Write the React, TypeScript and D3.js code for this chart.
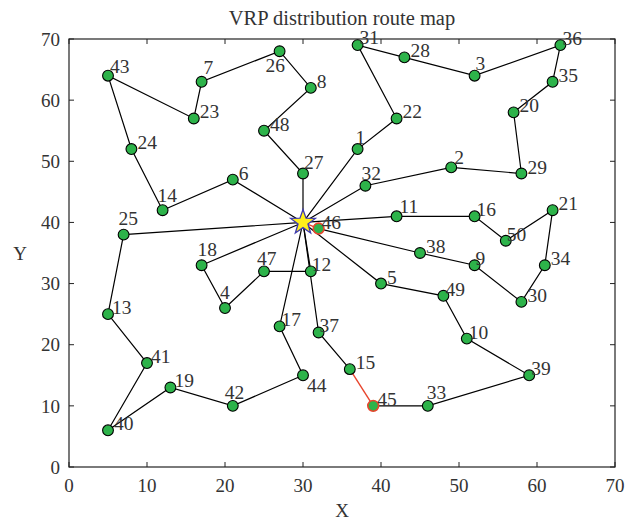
import React from "react";
import * as d3 from "d3";

// eil51-style customer coordinates, index = node id - 1; node 51 = depot
const nodeX = [37, 49, 52, 20, 40, 21, 17, 31, 52, 51, 42, 31, 5, 12, 36, 52, 27, 17, 13, 57, 62, 42, 16, 8, 7, 27, 30, 43, 58, 58, 37, 38, 46, 61, 62, 63, 32, 45, 59, 5, 10, 21, 5, 30, 39, 32, 25, 25, 48, 56, 30];
const nodeY = [52, 49, 64, 26, 30, 47, 63, 62, 33, 21, 41, 32, 25, 42, 16, 41, 23, 33, 13, 58, 42, 57, 57, 52, 38, 68, 48, 67, 48, 27, 69, 46, 10, 33, 63, 69, 22, 35, 15, 6, 17, 10, 64, 15, 10, 39, 32, 55, 28, 37, 40];
const DEPOT = 51;

// vehicle routes (node ids), each starts and ends at the depot
const routes = [
  [51, 27, 48, 8, 26, 7, 23, 43, 24, 14, 6, 51],
  [51, 1, 22, 31, 28, 3, 36, 35, 20, 29, 2, 32, 51],
  [51, 11, 16, 50, 21, 34, 30, 9, 38, 46],
  [51, 5, 49, 10, 39, 33, 45],
  [15, 37, 51],
  [51, 18, 4, 47, 12, 51],
  [51, 17, 44, 42, 19, 40, 41, 13, 25, 51],
];
// highlighted (red) segments
const redSegments = [
  [45, 15],
  [51, 46],
];
const redNodes = [45, 46];

const xTicks = [0, 10, 20, 30, 40, 50, 60, 70];
const yTicks = [0, 10, 20, 30, 40, 50, 60, 70];
const titleText = "VRP distribution route map";
const xLabel = "X";
const yLabel = "Y";

// label nudges in px [dx, dy(baseline)] relative to point centre
const LABEL_NUDGE: Record<number, [number, number]> = {
  26: [-14, 21], 44: [4, 17], 42: [-8, -7], 18: [-4, -9], 47: [-7, -6], 4: [-5, -9],
  7: [2, -8], 43: [2, -3], 27: [1, -5], 14: [-5, -8], 25: [-5, -10], 1: [-2, -5],
  2: [3, -3], 32: [-4, -6], 11: [3, -3], 3: [1, -6], 33: [-1, -7],
  12: [1, 0], 17: [2, 0], 37: [1, 0], 9: [1, 0], 50: [1, 0], 31: [2, -1], 36: [2, 0],
  49: [2, 0], 10: [2, 0], 39: [2, 0], 16: [2, 0],
  13: [4, 0], 41: [4, 0], 19: [4, -1], 45: [4, 0], 46: [3, 0],
};

const W = 637, H = 521;
const FONT = "Liberation Serif, DejaVu Serif, serif";
const TXT = "#333";
const ts = { fontFamily: FONT } as React.CSSProperties;

function starPath(R: number, r: number) {
  const pts: [number, number][] = [];
  for (let i = 0; i < 10; i++) {
    const rad = i % 2 === 0 ? R : r;
    const a = (i * Math.PI) / 5;
    pts.push([a, rad]);
  }
  return d3.lineRadial<[number, number]>().angle((d) => d[0]).radius((d) => d[1]).curve(d3.curveLinearClosed)(pts) || "";
}

export default function App() {
  const x = d3.scaleLinear().domain([0, 70]).range([69, 615]);
  const y = d3.scaleLinear().domain([0, 70]).range([467, 39]);
  const px = (id: number) => x(nodeX[id - 1]);
  const py = (id: number) => y(nodeY[id - 1]);
  const line = d3.line<number>().x((id) => px(id)).y((id) => py(id));
  const [x0, x1] = x.range();
  const [y0, y1] = y.range();
  const tl = 5;

  return (
    <svg width={W} height={H} style={{ position: "absolute", left: 0, top: 0, background: "#fff", fontFamily: FONT }}>
      <rect x={0} y={0} width={W} height={H} fill="#fff" />
      {routes.map((r, i) => (
        <path key={"r" + i} d={line(r) || ""} fill="none" stroke="#000" strokeWidth={1.2} />
      ))}
      {redSegments.map((s, i) => (
        <path key={"rs" + i} d={line(s) || ""} fill="none" stroke="#e8442c" strokeWidth={1.4} />
      ))}
      <rect x={x0} y={y1} width={x1 - x0} height={y0 - y1} fill="none" stroke="#222" strokeWidth={1.2} />
      {xTicks.map((t) => (
        <g key={"xt" + t}>
          <line x1={x(t)} x2={x(t)} y1={y0} y2={y0 - tl} stroke="#222" />
          <line x1={x(t)} x2={x(t)} y1={y1} y2={y1 + tl} stroke="#222" />
          <text x={x(t)} y={y0 + 25} textAnchor="middle" fontSize={19} fill={TXT} style={ts}>{t}</text>
        </g>
      ))}
      {yTicks.map((t) => (
        <g key={"yt" + t}>
          <line x1={x0} x2={x0 + tl} y1={y(t)} y2={y(t)} stroke="#222" />
          <line x1={x1} x2={x1 - tl} y1={y(t)} y2={y(t)} stroke="#222" />
          <text x={x0 - 9} y={y(t)} dy="0.35em" textAnchor="end" fontSize={19} fill={TXT} style={ts}>{t}</text>
        </g>
      ))}
      <text x={(x0 + x1) / 2} y={25} textAnchor="middle" fontSize={20.5} fill={TXT} style={ts}>{titleText}</text>
      <text x={(x0 + x1) / 2} y={517} textAnchor="middle" fontSize={19} fill={TXT} style={ts}>{xLabel}</text>
      <text x={20} y={(y0 + y1) / 2} dy="0.35em" textAnchor="middle" fontSize={19} fill={TXT} style={ts}>{yLabel}</text>
      {nodeX.map((_, i) => {
        const id = i + 1;
        if (id === DEPOT) return null;
        const red = redNodes.includes(id);
        return (
          <circle key={"n" + id} cx={px(id)} cy={py(id)} r={5.4} fill="#2db34a" stroke={red ? "#e8442c" : "#000"} strokeWidth={red ? 1.6 : 1.1} />
        );
      })}
      <path d={starPath(13, 5.2)} transform={`translate(${px(DEPOT)},${py(DEPOT)})`} fill="#ffef1a" stroke="#3d3ab0" strokeWidth={1.3} />
      {nodeX.map((_, i) => {
        const id = i + 1;
        if (id === DEPOT) return null;
        const [dx, dy] = LABEL_NUDGE[id] || [6, 0];
        return (
          <text key={"l" + id} x={px(id) + dx} y={py(id) + dy} fontSize={19.5} fill={TXT} style={ts}>{id}</text>
        );
      })}
    </svg>
  );
}
